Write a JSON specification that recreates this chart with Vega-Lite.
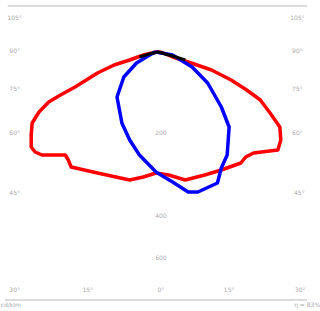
{
  "$schema": "https://vega.github.io/schema/vega-lite/v6.json",
  "width": 320,
  "height": 311,
  "autosize": {"type": "fit", "contains": "padding"},
  "padding": 0,
  "background": "white",
  "config": {"view": {"stroke": null}},
  "datasets": {
    "red": [
      {"i":0,"x":0,"y":0},{"i":1,"x":-5,"y":0},{"i":2,"x":-18,"y":-3},{"i":3,"x":-32,"y":-8},{"i":4,"x":-48,"y":-13},{"i":5,"x":-65,"y":-21},{"i":6,"x":-88,"y":-35},{"i":7,"x":-103,"y":-43},{"i":8,"x":-115,"y":-50},{"i":9,"x":-125,"y":-60},{"i":10,"x":-132,"y":-71},{"i":11,"x":-133,"y":-83},{"i":12,"x":-133,"y":-95},{"i":13,"x":-129,"y":-100},{"i":14,"x":-122,"y":-103},{"i":15,"x":-98,"y":-103},{"i":16,"x":-95,"y":-108},{"i":17,"x":-92,"y":-115},{"i":18,"x":-65,"y":-121},{"i":19,"x":-32,"y":-128},{"i":20,"x":-18,"y":-125},{"i":21,"x":-5,"y":-121},{"i":22,"x":8,"y":-123},{"i":23,"x":25,"y":-128},{"i":24,"x":45,"y":-123},{"i":25,"x":62,"y":-118},{"i":26,"x":82,"y":-111},{"i":27,"x":87,"y":-105},{"i":28,"x":95,"y":-101},{"i":29,"x":120,"y":-98},{"i":30,"x":123,"y":-88},{"i":31,"x":122,"y":-75},{"i":32,"x":112,"y":-61},{"i":33,"x":102,"y":-48},{"i":34,"x":88,"y":-38},{"i":35,"x":72,"y":-28},{"i":36,"x":52,"y":-18},{"i":37,"x":28,"y":-10},{"i":38,"x":12,"y":-5},{"i":39,"x":0,"y":0}
    ],
    "blue": [
      {"i":0,"x":-5,"y":0},{"i":1,"x":-8,"y":-1},{"i":2,"x":-25,"y":-11},{"i":3,"x":-38,"y":-25},{"i":4,"x":-45,"y":-45},{"i":5,"x":-40,"y":-71},{"i":6,"x":-32,"y":-88},{"i":7,"x":-22,"y":-103},{"i":8,"x":-5,"y":-120},{"i":9,"x":12,"y":-130},{"i":10,"x":28,"y":-140},{"i":11,"x":38,"y":-140},{"i":12,"x":58,"y":-131},{"i":13,"x":62,"y":-116},{"i":14,"x":68,"y":-103},{"i":15,"x":70,"y":-75},{"i":16,"x":62,"y":-55},{"i":17,"x":48,"y":-31},{"i":18,"x":32,"y":-15},{"i":19,"x":12,"y":-3},{"i":20,"x":-5,"y":0}
    ],
    "black": [
      {"i":0,"x":-22,"y":-5},{"i":1,"x":-12,"y":-2},{"i":2,"x":-3,"y":0},{"i":3,"x":12,"y":-4},{"i":4,"x":25,"y":-8}
    ],
    "frame": [
      {"x":-157,"x2":150,"y":46},
      {"x":-160,"x2":150,"y":-248}
    ],
    "labels": [
      {"t":"105°","x":-150,"y":34,"a":"center"},{"t":"105°","x":140,"y":34,"a":"center"},
      {"t":"90°","x":-150,"y":1,"a":"center"},{"t":"90°","x":140,"y":1,"a":"center"},
      {"t":"75°","x":-150,"y":-37,"a":"center"},{"t":"75°","x":140,"y":-37,"a":"center"},
      {"t":"60°","x":-150,"y":-81,"a":"center"},{"t":"60°","x":140,"y":-81,"a":"center"},
      {"t":"45°","x":-150,"y":-141,"a":"center"},{"t":"45°","x":142,"y":-141,"a":"center"},
      {"t":"30°","x":-150,"y":-238,"a":"center"},{"t":"15°","x":-75,"y":-238,"a":"center"},
      {"t":"0°","x":0,"y":-238,"a":"center"},{"t":"15°","x":70,"y":-238,"a":"center"},
      {"t":"30°","x":143,"y":-238,"a":"center"},
      {"t":"200","x":0,"y":-81,"a":"center"},{"t":"400","x":0,"y":-164,"a":"center"},{"t":"600","x":0,"y":-206,"a":"center"}
    ],
    "foot": [
      {"t":"cd/klm","x":-154,"y":-253,"a":"left"},
      {"t":"η = 83%","x":150,"y":-253,"a":"right"}
    ]
  },
  "layer": [
    {
      "data": {"name": "frame"},
      "mark": {"type": "rule", "color": "#d0d0d0", "strokeWidth": 1.5},
      "encoding": {
        "x": {"field": "x", "type": "quantitative", "scale": {"domain": [-165, 155], "nice": false, "zero": false}, "axis": null},
        "x2": {"field": "x2"},
        "y": {"field": "y", "type": "quantitative", "scale": {"domain": [-259, 52], "nice": false, "zero": false}, "axis": null}
      }
    },
    {
      "data": {"name": "red"},
      "mark": {"type": "line", "color": "#ff0000", "strokeWidth": 3.5, "strokeJoin": "round"},
      "encoding": {
        "x": {"field": "x", "type": "quantitative"},
        "y": {"field": "y", "type": "quantitative"},
        "order": {"field": "i", "type": "quantitative"}
      }
    },
    {
      "data": {"name": "blue"},
      "mark": {"type": "line", "color": "#0000ff", "strokeWidth": 3.5, "strokeJoin": "round"},
      "encoding": {
        "x": {"field": "x", "type": "quantitative"},
        "y": {"field": "y", "type": "quantitative"},
        "order": {"field": "i", "type": "quantitative"}
      }
    },
    {
      "data": {"name": "black"},
      "mark": {"type": "line", "color": "#000000", "strokeWidth": 3, "strokeJoin": "round"},
      "encoding": {
        "x": {"field": "x", "type": "quantitative"},
        "y": {"field": "y", "type": "quantitative"},
        "order": {"field": "i", "type": "quantitative"}
      }
    },
    {
      "data": {"name": "labels"},
      "mark": {"type": "text", "fontSize": 6, "color": "#aaaaaa", "font": "DejaVu Sans", "align": "center", "baseline": "middle"},
      "encoding": {
        "x": {"field": "x", "type": "quantitative"},
        "y": {"field": "y", "type": "quantitative"},
        "text": {"field": "t"}
      }
    },
    {
      "data": {"name": "foot"},
      "mark": {"type": "text", "fontSize": 6, "color": "#aaaaaa", "font": "DejaVu Sans", "baseline": "middle"},
      "encoding": {
        "x": {"field": "x", "type": "quantitative"},
        "y": {"field": "y", "type": "quantitative"},
        "text": {"field": "t"},
        "align": {"field": "a"}
      }
    }
  ]
}
